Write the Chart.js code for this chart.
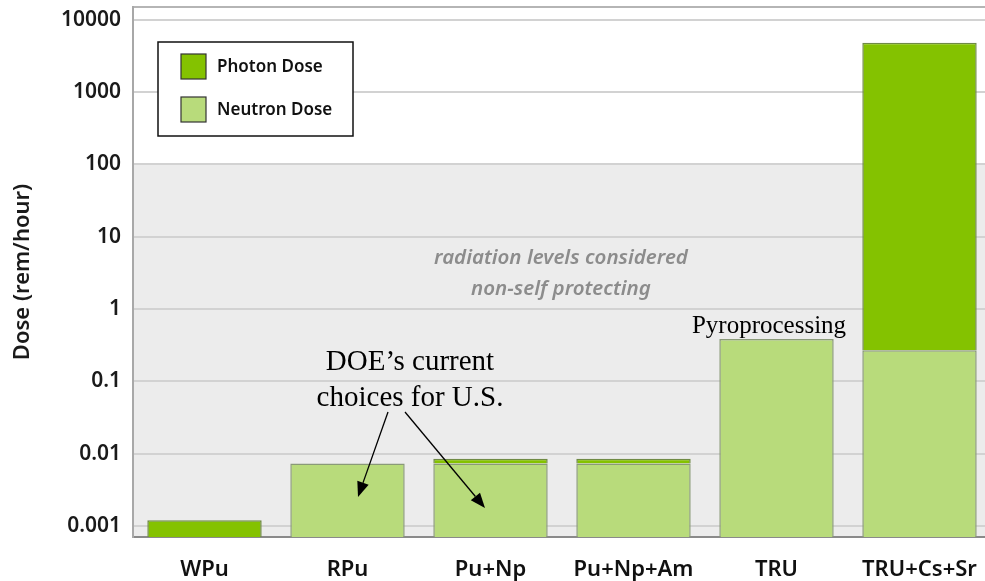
<!DOCTYPE html>
<html>
<head>
<meta charset="utf-8">
<script src="https://cdn.jsdelivr.net/npm/chart.js@4.4.1/dist/chart.umd.min.js"></script>
<style>
  html, body { margin: 0; padding: 0; background: #fff; overflow: hidden; }
  #wrap { position: relative; width: 991px; height: 581px; }
</style>
</head>
<body>
<div id="wrap"><canvas id="doseChart"></canvas></div>
<script>
const categories = ['WPu', 'RPu', 'Pu+Np', 'Pu+Np+Am', 'TRU', 'TRU+Cs+Sr'];
const neutronDose = [null, 0.0073, 0.0073, 0.0073, 0.385, 0.27];
const photonDose = [0.0012, null, 0.0012, 0.0012, null, 4800];
const yTickValues = [0.001, 0.01, 0.1, 1, 10, 100, 1000, 10000];
const yTickLabels = ['0.001', '0.01', '0.1', '1', '10', '100', '1000', '10000'];

const photonColor = '#84c200';
const neutronColor = '#b8db7b';
const sansFont = "'Noto Sans', 'DejaVu Sans', sans-serif";
const serifFont = "'Liberation Serif', 'DejaVu Serif', serif";

// grey band, frame, legend box and the text notes
const decorPlugin = {
    id: 'decor',
    beforeDraw(chart) {
        const ctx = chart.ctx;
        const area = chart.chartArea;
        const y = chart.scales.y;
        const top100 = y.getPixelForValue(100);
        ctx.save();
        ctx.fillStyle = '#ececec';
        ctx.fillRect(area.left, top100, area.right - area.left, area.bottom - top100);
        ctx.strokeStyle = '#b5b5b5';
        ctx.lineWidth = 2;
        ctx.beginPath();
        ctx.moveTo(area.left, area.top);
        ctx.lineTo(area.right, area.top);
        ctx.stroke();
        ctx.restore();
    },
    afterDraw(chart) {
        const ctx = chart.ctx;
        ctx.save();

        // legend
        ctx.fillStyle = '#fff';
        ctx.fillRect(158, 42, 195, 94);
        ctx.strokeStyle = '#111';
        ctx.lineWidth = 1.5;
        ctx.strokeRect(158, 42, 195, 94);
        const items = [chart.data.datasets[1], chart.data.datasets[0]];
        items.forEach((ds, i) => {
            const top = 54 + i * 43;
            ctx.fillStyle = ds.backgroundColor;
            ctx.fillRect(181, top, 25, 25);
            ctx.strokeStyle = '#333';
            ctx.lineWidth = 1.2;
            ctx.strokeRect(181, top, 25, 25);
            ctx.fillStyle = '#111';
            ctx.font = "600 17px " + sansFont;
            ctx.textBaseline = 'middle';
            ctx.textAlign = 'left';
            ctx.fillText(ds.label, 217, top + 13);
        });

        // shaded region note
        ctx.fillStyle = '#8c8c8c';
        ctx.font = "italic 600 20.5px " + sansFont;
        ctx.textAlign = 'center';
        ctx.textBaseline = 'middle';
        ctx.fillText('radiation levels considered', 561, 258);
        ctx.fillText('non-self protecting', 561, 289);

        // serif notes
        ctx.fillStyle = '#000';
        ctx.font = "29px " + serifFont;
        ctx.fillText('DOE\u2019s current', 410, 362);
        ctx.fillText('choices for U.S.', 410, 398);
        ctx.font = "25px " + serifFont;
        ctx.fillText('Pyroprocessing', 769, 326);

        drawArrow(ctx, 388, 412, 358, 497);
        drawArrow(ctx, 405, 412, 485, 508);
        ctx.restore();
    }
};

function drawArrow(ctx, x1, y1, x2, y2) {
    const ang = Math.atan2(y2 - y1, x2 - x1);
    const len = 15, half = 6;
    ctx.strokeStyle = '#000';
    ctx.fillStyle = '#000';
    ctx.lineWidth = 1.3;
    ctx.beginPath();
    ctx.moveTo(x1, y1);
    ctx.lineTo(x2 - Math.cos(ang) * len, y2 - Math.sin(ang) * len);
    ctx.stroke();
    ctx.beginPath();
    ctx.moveTo(x2, y2);
    ctx.lineTo(x2 - Math.cos(ang) * len - Math.sin(ang) * half, y2 - Math.sin(ang) * len + Math.cos(ang) * half);
    ctx.lineTo(x2 - Math.cos(ang) * len + Math.sin(ang) * half, y2 - Math.sin(ang) * len - Math.cos(ang) * half);
    ctx.closePath();
    ctx.fill();
}

new Chart(document.getElementById('doseChart'), {
    type: 'bar',
    data: {
        labels: categories,
        datasets: [
            {
                label: 'Neutron Dose',
                data: neutronDose,
                backgroundColor: neutronColor,
                borderColor: '#8a9a78',
                borderWidth: 1.5,
                borderSkipped: 'bottom'
            },
            {
                label: 'Photon Dose',
                data: photonDose,
                backgroundColor: photonColor,
                borderColor: '#6f8a45',
                borderWidth: 1.5,
                borderSkipped: 'bottom'
            }
        ]
    },
    options: {
        responsive: true,
        maintainAspectRatio: false,
        animation: false,
        layout: { padding: { left: 0, top: 7, right: 0, bottom: 0 } },
        datasets: { bar: { categoryPercentage: 0.8, barPercentage: 1.0 } },
        plugins: {
            legend: { display: false },
            tooltip: { enabled: false }
        },
        scales: {
            x: {
                stacked: true,
                grid: { display: false },
                border: { color: '#8a8a8a', width: 2 },
                ticks: {
                    color: '#111',
                    font: { family: sansFont, size: 22, weight: '600' },
                    padding: 12
                },
                afterFit(scale) { scale.height = 44; }
            },
            y: {
                type: 'logarithmic',
                stacked: true,
                z: 1,
                min: 0.000705,
                max: 15000,
                border: { color: '#a8a8a8', width: 2 },
                grid: { color: '#d2d2d2', lineWidth: 2, drawTicks: false },
                afterBuildTicks(scale) {
                    scale.ticks = yTickValues.map(v => ({ value: v }));
                },
                ticks: {
                    color: '#1a1a1a',
                    font: { family: sansFont, size: 21, weight: '600' },
                    padding: 12,
                    callback(value) {
                        const i = yTickValues.indexOf(value);
                        return i >= 0 ? yTickLabels[i] : '';
                    }
                },
                title: {
                    display: true,
                    text: 'Dose (rem/hour)',
                    color: '#1a1a1a',
                    font: { family: sansFont, size: 22, weight: '600' },
                    padding: { top: 10, bottom: 0 }
                },
                afterFit(scale) {
                    scale.width = 133;
                    scale.paddingTop = 0;
                    scale.paddingBottom = 0;
                }
            }
        }
    },
    plugins: [decorPlugin]
});
</script>
</body>
</html>
